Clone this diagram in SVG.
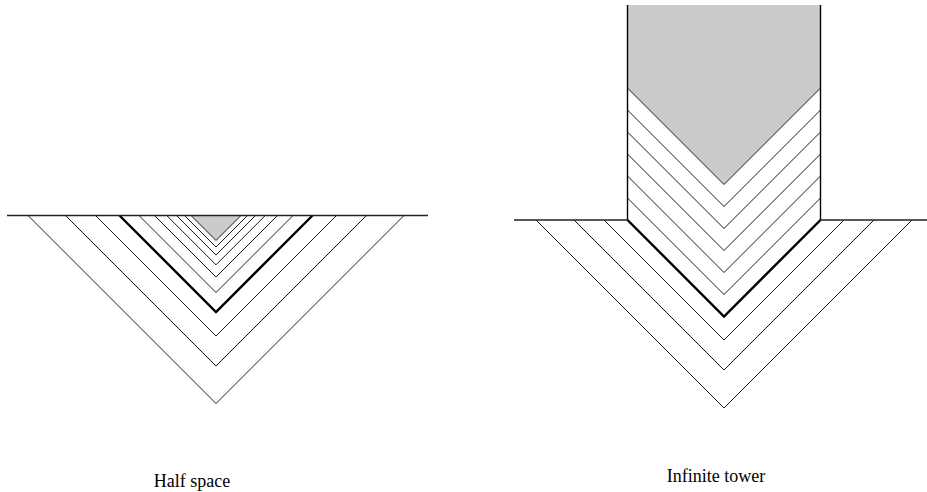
<svg xmlns="http://www.w3.org/2000/svg" width="927" height="492" viewBox="0 0 927 492">
<style>
.thin{fill:none;stroke:#000;stroke-width:0.9}
.thick{fill:none;stroke:#000;stroke-width:2.4;stroke-linejoin:miter}
.base{fill:none;stroke:#222;stroke-width:1.4}
.wall{fill:none;stroke:#000;stroke-width:1.4}
.gray{fill:#cbcbcb;stroke:none}
.lbl{font-family:"Liberation Serif","Times New Roman",serif;font-size:18px;fill:#000;text-anchor:middle}
</style>
<g id="half-space">
<polygon class="gray" points="191,215.5 216,240.5 241,215.5"/>
<polyline class="thin" points="191,215.5 216,240.5 241,215.5"/>
<polyline class="thin" points="28,215.5 216,403.5 404,215.5"/>
<polyline class="thin" points="65.5,215.5 216,366 366.5,215.5"/>
<polyline class="thin" points="95.5,215.5 216,336 336.5,215.5"/>
<polyline class="thin" points="139,215.5 216,292.5 293,215.5"/>
<polyline class="thin" points="154.5,215.5 216,277 277.5,215.5"/>
<polyline class="thin" points="166.7,215.5 216,264.8 265.3,215.5"/>
<polyline class="thin" points="176.5,215.5 216,255 255.5,215.5"/>
<polyline class="thin" points="184.5,215.5 216,247 247.5,215.5"/>
<polyline class="thick" points="119.5,215.5 216,312 312.5,215.5"/>
<line class="base" x1="7" y1="215.5" x2="428" y2="215.5"/>
<text class="lbl" x="192" y="487">Half space</text>
</g>
<g id="infinite-tower">
<polygon class="gray" points="627.5,5 820.5,5 820.5,88 724,184.5 627.5,88"/>
<polyline class="thin" points="627.5,88 724,184.5 820.5,88"/>
<polyline class="thin" points="627.5,110 724,206.5 820.5,110"/>
<polyline class="thin" points="627.5,132 724,228.5 820.5,132"/>
<polyline class="thin" points="627.5,154 724,250.5 820.5,154"/>
<polyline class="thin" points="627.5,176 724,272.5 820.5,176"/>
<polyline class="thin" points="627.5,198 724,294.5 820.5,198"/>
<polyline class="thin" points="536,220 724,408 912,220"/>
<polyline class="thin" points="574,220 724,370 874,220"/>
<polyline class="thin" points="604,220 724,340 844,220"/>
<polyline class="thick" points="627.5,220 724,316.5 820.5,220"/>
<polyline class="wall" points="627.5,5 627.5,220"/>
<polyline class="wall" points="820.5,5 820.5,220"/>
<line class="base" x1="514" y1="220" x2="627.5" y2="220"/>
<line class="base" x1="820.5" y1="220" x2="927" y2="220"/>
<text class="lbl" x="716" y="482">Infinite tower</text>
</g>
</svg>
